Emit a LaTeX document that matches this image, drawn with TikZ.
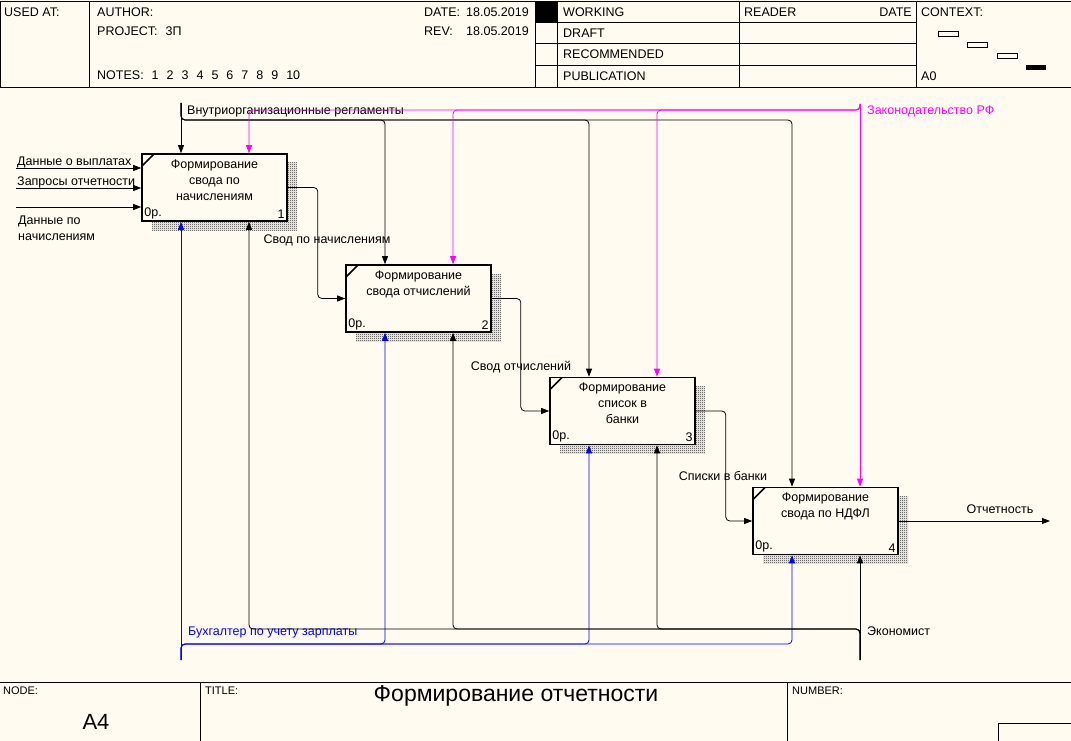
\documentclass[tikz,border=0pt]{standalone}
\usepackage{fontspec}
\setmainfont{Liberation Sans}
\usetikzlibrary{arrows.meta, positioning, patterns, shadows, calc}
\definecolor{PaperBg}{RGB}{255,251,240}
\definecolor{LawPink}{RGB}{255,0,255}
\definecolor{StaffBlue}{RGB}{0,0,255}
\pgfdeclarepatternformonly{pixelcheck}{\pgfpointorigin}{\pgfpoint{2pt}{2pt}}{\pgfpoint{2pt}{2pt}}{
	\pgfpathrectangle{\pgfpointorigin}{\pgfpoint{1pt}{1pt}}
	\pgfpathrectangle{\pgfpoint{1pt}{1pt}}{\pgfpoint{1pt}{1pt}}
	\pgfusepath{fill}}

\begin{document}
\begin{tikzpicture}[x=1pt, y=-1pt, font=\fontsize{12.5}{16}\selectfont,
	func/.style={draw, line width=1.6pt, fill=PaperBg, minimum width=145pt, minimum height=67pt, inner sep=0pt,
		general shadow={shadow xshift=10pt, shadow yshift=-9pt, pattern=pixelcheck, pattern color=black!85},
		path picture={\draw[line width=1.6pt] ([yshift=-12pt]path picture bounding box.north west) -- ([xshift=12pt]path picture bounding box.north west);},
		label={[anchor=north, align=center, inner sep=0pt, yshift=-6pt]north:#1},
		label={[anchor=south west, inner sep=3pt]south west:0р.}},
	num/.style={label={[anchor=south east, inner sep=3pt]south east:#1}},
	link/.style={-{Triangle[length=8pt, width=6pt]}, line width=0.8pt, rounded corners=4pt},
	tag/.style={inner sep=1pt},
	hdr/.style={anchor=west, inner sep=0pt},
	frame/.style={line width=0.8pt}]

	\fill[PaperBg] (0,0) rectangle (1071,741);
	\useasboundingbox (0,0) rectangle (1071,741);

	\draw[frame] (0,1) -- (1071,1) (0,87) -- (1071,87) (0,1) -- (0,87);
	\draw[frame] (89,1) -- (89,87) (535,1) -- (535,87) (557,1) -- (557,87) (739,1) -- (739,87) (916,1) -- (916,87);
	\draw[frame] (535,22) -- (916,22) (535,43) -- (916,43) (535,65) -- (916,65);
	\fill (535,1) rectangle (557,22);
	\node[hdr] (usedat) at (4,12) {USED AT:};
	\node[hdr] (author) at (97,12) {AUTHOR:};
	\node[hdr] (project) at (97,31) {PROJECT:\hspace{8pt}3П};
	\node[hdr] (notes) at (97,75) {NOTES:\foreach \n in {1,...,10}{\hspace{8pt}\n}};
	\node[hdr] (datel) at (424,12) {DATE:};
	\node[hdr] (dater) at (466,12) {18.05.2019};
	\node[hdr] (revl) at (424,31) {REV:};
	\node[hdr] (revr) at (466,31) {18.05.2019};
	\node[hdr] (working) at (563,12) {WORKING};
	\node[hdr] (draft) at (563,33) {DRAFT};
	\node[hdr] (recomm) at (563,54) {RECOMMENDED};
	\node[hdr] (public) at (563,76) {PUBLICATION};
	\node[hdr] (reader) at (744,12) {READER};
	\node[hdr, anchor=east] (rdate) at (912,12) {DATE};
	\node[hdr] (context) at (921,12) {CONTEXT:};
	\node[hdr] (ctxnode) at (921,76) {A0};
	\draw (938,31) rectangle (958,36) (967,42) rectangle (987,47) (997,53) rectangle (1017,58);
	\fill (1026,65) rectangle (1046,70);

	\node[func={Формирование\\свода по\\начислениям}, num=1] (b1) at (214.5,187.5) {};
	\node[func={Формирование\\свода отчислений}, num=2] (b2) at (418.5,298.5) {};
	\node[func={Формирование\\список в\\банки}, num=3] (b3) at (622.5,411) {};
	\node[func={Формирование\\свода по НДФЛ}, num=4] (b4) at (825.5,521) {};

	\coordinate (in1) at (16,168);
	\coordinate (in2) at (16,188);
	\coordinate (in3) at (16,207);
	\coordinate (regTop) at (181,103);
	\coordinate (lawTop) at (860,104);
	\coordinate (bukhBot) at (181,660);
	\coordinate (econBot) at (860,660);
	\coordinate (rep) at (1050,521);

	\draw[link] (in1) -- (in1 -| b1.west);
	\draw[link] (in2) -- (in2 -| b1.west);
	\draw[link] (in3) -- (in3 -| b1.west);
	\node[tag, anchor=south west] (inl1) at ([yshift=-1pt]in1) {Данные о выплатах};
	\node[tag, anchor=south west] (inl2) at ([yshift=-1pt]in2) {Запросы отчетности};
	\node[tag, anchor=north west, align=left] (inl3) at ([xshift=1pt, yshift=-8pt]in3) {Данные по\\начислениям};

	\draw[link] (regTop) -- ([xshift=-33.5pt]b1.north);
	\draw[link] (regTop) -- ++(0,17) -| ([xshift=-33.5pt]b2.north);
	\draw[link] (regTop) -- ++(0,17) -| ([xshift=-33.5pt]b3.north);
	\draw[link] (regTop) -- ++(0,17) -| ([xshift=-33.5pt]b4.north);
	\node[tag, anchor=west] (regl) at (186,111) {Внутриорганизационные регламенты};

	\draw[link, LawPink] (lawTop) -- ([xshift=34.5pt]b4.north);
	\draw[link, LawPink] (lawTop) -- ++(0,6) -| ([xshift=34.5pt]b3.north);
	\draw[link, LawPink] (lawTop) -- ++(0,6) -| ([xshift=34.5pt]b2.north);
	\draw[link, LawPink] (lawTop) -- ++(0,6) -| ([xshift=34.5pt]b1.north);
	\node[tag, anchor=west, text=LawPink] (lawl) at (866,111) {Законодательство РФ};

	\draw[link, StaffBlue] (bukhBot) -- ([xshift=-33.5pt]b1.south);
	\draw[link, StaffBlue] (bukhBot) -- ++(0,-16) -| ([xshift=-33.5pt]b2.south);
	\draw[link, StaffBlue] (bukhBot) -- ++(0,-16) -| ([xshift=-33.5pt]b3.south);
	\draw[link, StaffBlue] (bukhBot) -- ++(0,-16) -| ([xshift=-33.5pt]b4.south);
	\node[tag, anchor=west, text=StaffBlue] (bukhl) at (187,632) {Бухгалтер по учету зарплаты};

	\draw[link] (econBot) -- ([xshift=34.5pt]b4.south);
	\draw[link] (econBot) -- ++(0,-31) -| ([xshift=34.5pt]b3.south);
	\draw[link] (econBot) -- ++(0,-31) -| ([xshift=34.5pt]b2.south);
	\draw[link] (econBot) -- ++(0,-31) -| ([xshift=34.5pt]b1.south);
	\node[tag, anchor=west] (econl) at (866,631) {Экономист};

	\draw[link] (b1.east) -- ++(30,0) |- (b2.west);
	\draw[link] (b2.east) -- ++(29,0) |- (b3.west);
	\draw[link] (b3.east) -- ++(30,0) |- (b4.west);
	\draw[link] (b4.east) -- (rep);
	\node[tag] (o1) at (327,240) {Свод по начислениям};
	\node[tag] (o2) at (521,367) {Свод отчислений};
	\node[tag] (o3) at (723,476) {Списки в банки};
	\node[tag] (o4) at (1000,509) {Отчетность};

	\draw[frame] (0,682) -- (1071,682) (200,682) -- (200,741) (787,682) -- (787,741);
	\draw[frame] (998,741) |- (1071,723);
	\node[hdr, font=\fontsize{11}{13}\selectfont] (nodel) at (3,691) {NODE:};
	\node[hdr, font=\fontsize{11}{13}\selectfont] (titlel) at (205,691) {TITLE:};
	\node[hdr, font=\fontsize{11}{13}\selectfont] (numberl) at (792,691) {NUMBER:};
	\node[font=\fontsize{22}{26}\selectfont] (nodeid) at (96,722) {A4};
	\node[font=\fontsize{23}{27}\selectfont] (title) at (516,696) {Формирование отчетности};
\end{tikzpicture}
\end{document}
